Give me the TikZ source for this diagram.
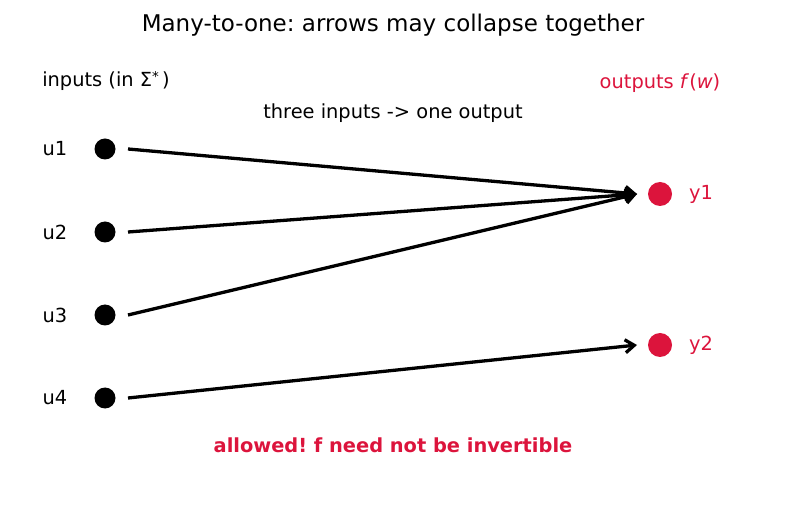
\documentclass[tikz,border=0pt]{standalone}
\usepackage{fontspec}
\setmainfont{DejaVu Sans}
\usetikzlibrary{arrows.meta,positioning}
\definecolor{crim}{HTML}{DC143C}
\frenchspacing

\begin{document}
\begin{tikzpicture}[x=1pt,y=-1pt,
  indot/.style={circle,fill=black,inner sep=0pt,minimum size=21pt},
  outdot/.style={circle,fill=crim,inner sep=0pt,minimum size=24pt},
  lbl/.style={font=\fontsize{19.4}{22}\selectfont},
  link/.style={-{Straight Barb[length=9pt,width=13pt]},line width=3.3pt}]
  \useasboundingbox (0,0) rectangle (787,510);
  \node[font=\fontsize{23}{26}\selectfont] (title) at (393,25) {Many-to-one: arrows may collapse together};
  \node[lbl] (inhead) at (106,81) {inputs (in Σ\raisebox{0.55ex}{\fontsize{13.5}{15}\selectfont *}\,)};
  \node[lbl,crim] (outhead) at (660,83) {outputs \textit{f}(\textit{w})};
  \node[lbl] (note) at (393,113) {three inputs -> one output};
  % inputs
  \foreach \i/\y in {1/149,2/232,3/315,4/398} {
    \node[indot] (u\i) at (105,\y) {};
    \node[lbl] (lu\i) at (55,\y) {u\i};
  }
  % outputs
  \foreach \j/\y in {1/194,2/345} {
    \node[outdot] (y\j) at (660,\y) {};
    \node[lbl,crim] (ly\j) at (701,\y) {y\j};
  }
  \foreach \a/\b in {u1/y1,u2/y1,u3/y1,u4/y2}
    \draw[link] ([xshift=23pt]\a.center) -- ([xshift=-23pt]\b.center);
  \node[lbl,crim,font=\fontsize{19.4}{22}\selectfont\bfseries] (verdict) at (393,445) {allowed! f need not be invertible};
\end{tikzpicture}
\end{document}
